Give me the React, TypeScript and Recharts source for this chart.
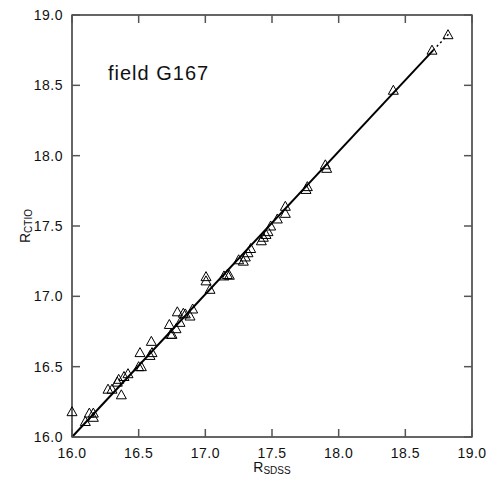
import { ComposedChart, Scatter, Line, XAxis, YAxis } from "recharts";

// magnitudes
const rSdss = [
  16.0, 16.1, 16.13, 16.16, 16.16, 16.27, 16.3, 16.37, 16.34, 16.35, 16.39, 16.42,
  16.5, 16.52, 16.51, 16.585, 16.6, 16.595, 16.73, 16.74, 16.75, 16.78, 16.79, 16.81,
  16.835, 16.85, 16.885, 16.905, 17.005, 17.005, 17.035, 17.14, 17.165, 17.18, 17.25,
  17.285, 17.3, 17.32, 17.34, 17.42, 17.435, 17.455, 17.47, 17.49, 17.54, 17.6, 17.6,
  17.755, 17.765, 17.9, 17.91, 18.41, 18.7, 18.82,
];
const rCtio = [
  16.18, 16.11, 16.17, 16.14, 16.17, 16.34, 16.34, 16.3, 16.39, 16.41, 16.43, 16.45,
  16.5, 16.5, 16.6, 16.58, 16.6, 16.68, 16.8, 16.73, 16.73, 16.77, 16.89, 16.815,
  16.88, 16.875, 16.86, 16.91, 17.14, 17.11, 17.05, 17.145, 17.155, 17.15, 17.26,
  17.25, 17.28, 17.31, 17.34, 17.395, 17.42, 17.44, 17.46, 17.5, 17.55, 17.59, 17.64,
  17.76, 17.78, 17.935, 17.91, 18.465, 18.75, 18.86,
];

// fit line: solid part, then dotted extension
const fitX = [16.0, 18.71];
const fitY = [16.0, 18.75];
const extX = [18.71, 18.83];
const extY = [18.75, 18.87];

const ticks = [16.0, 16.5, 17.0, 17.5, 18.0, 18.5, 19.0];

const points = rSdss.map((x, i) => ({ x, y: rCtio[i] }));
const fit = fitX.map((x, i) => ({ x, y: fitY[i] }));
const ext = extX.map((x, i) => ({ x, y: extY[i] }));

const font = "'Liberation Sans', Arial, Helvetica, sans-serif";
const tickColor = "#555";
const TL = 8; // inward tick length
const OFF = 8; // recharts tickSize (tickMargin 0)

// plot box, matches the chart margins / axis sizes below
const W = 488;
const H = 479;
const box = { left: 72, top: 15, right: W - 16, bottom: H - 42 };
const sx = (v: number) => box.left + ((v - 16) / 3) * (box.right - box.left);
const sy = (v: number) => box.bottom - ((v - 16) / 3) * (box.bottom - box.top);

const Triangle = (props: any) => {
  const { cx, cy } = props;
  if (cx == null || cy == null) return <g />;
  return (
    <polygon
      points={`${cx},${cy - 5} ${cx - 5},${cy + 4} ${cx + 5},${cy + 4}`}
      fill="none"
      stroke="#000"
      strokeWidth={1}
    />
  );
};

const BottomTick = (props: any) => {
  const { x, y, payload } = props;
  const e = y - OFF;
  return (
    <text x={x} y={e + 21} textAnchor="middle" fontSize={14} fontFamily={font} fill="#111" letterSpacing={0.5}>
      {Number(payload.value).toFixed(1)}
    </text>
  );
};

const LeftTick = (props: any) => {
  const { x, y, payload } = props;
  const e = x + OFF;
  return (
    <text x={e - 9} y={y + 5} textAnchor="end" fontSize={14} fontFamily={font} fill="#111" letterSpacing={0.5}>
      {Number(payload.value).toFixed(1)}
    </text>
  );
};

// frame with inward ticks on all four sides
const Frame = () => (
  <svg
    width={W}
    height={H}
    style={{ position: "absolute", left: 0, top: 0, pointerEvents: "none" }}
  >
    <rect
      x={box.left}
      y={box.top}
      width={box.right - box.left}
      height={box.bottom - box.top}
      fill="none"
      stroke="#000"
      strokeWidth={1.2}
    />
    {ticks.map((t) => (
      <g key={t} stroke={tickColor} strokeWidth={1.5} fill="none">
        <path d={`M${sx(t)},${box.bottom}V${box.bottom - TL}`} />
        <path d={`M${sx(t)},${box.top}V${box.top + TL}`} />
        <path d={`M${box.left},${sy(t)}H${box.left + TL}`} />
        <path d={`M${box.right},${sy(t)}H${box.right - TL}`} />
      </g>
    ))}
  </svg>
);

export default function App() {
  return (
    <div style={{ position: "absolute", left: 0, top: 0, width: W, height: H, background: "#fff" }}>
      <ComposedChart width={W} height={H} margin={{ top: 15, right: 16, bottom: 0, left: 0 }}>
        <XAxis
          xAxisId="b"
          type="number"
          dataKey="x"
          domain={[16, 19]}
          ticks={ticks}
          height={42}
          tickSize={OFF}
          tickMargin={0}
          tickLine={false}
          axisLine={false}
          tick={BottomTick}
          interval={0}
          label={{
            content: () => (
              <text x={272} y={472} textAnchor="middle" fontFamily={font} fill="#111">
                <tspan fontSize={14}>R</tspan>
                <tspan fontSize={10} dy={2}>SDSS</tspan>
              </text>
            ),
          }}
        />
        <YAxis
          yAxisId="l"
          type="number"
          dataKey="y"
          domain={[16, 19]}
          ticks={ticks}
          width={72}
          tickSize={OFF}
          tickMargin={0}
          tickLine={false}
          axisLine={false}
          tick={LeftTick}
          interval={0}
          label={{
            content: () => (
              <text
                x={0}
                y={0}
                transform="translate(30,226) rotate(-90)"
                textAnchor="middle"
                fontFamily={font}
                fill="#111"
              >
                <tspan fontSize={14}>R</tspan>
                <tspan fontSize={10} dy={2}>CTIO</tspan>
              </text>
            ),
          }}
        />
        <Line
          xAxisId="b"
          yAxisId="l"
          data={fit}
          dataKey="y"
          type="linear"
          stroke="#000"
          strokeWidth={2}
          dot={false}
          activeDot={false}
          isAnimationActive={false}
        />
        <Line
          xAxisId="b"
          yAxisId="l"
          data={ext}
          dataKey="y"
          type="linear"
          stroke="#000"
          strokeWidth={1.5}
          strokeDasharray="2 3"
          dot={false}
          activeDot={false}
          isAnimationActive={false}
        />
        <Scatter
          xAxisId="b"
          yAxisId="l"
          data={points}
          dataKey="y"
          shape={Triangle}
          isAnimationActive={false}
        />
      </ComposedChart>
      <Frame />
      <div
        style={{
          position: "absolute",
          left: 108,
          top: 62,
          fontFamily: font,
          fontSize: 20,
          letterSpacing: 1,
          color: "#111",
          whiteSpace: "nowrap",
        }}
      >
        field G167
      </div>
    </div>
  );
}
